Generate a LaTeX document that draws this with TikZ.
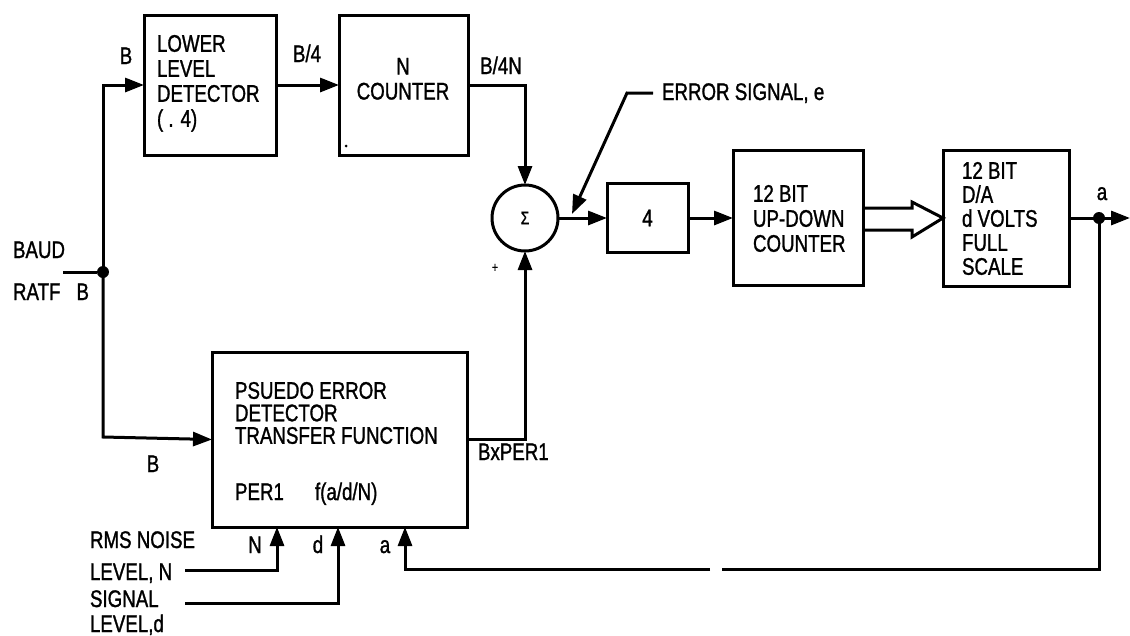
\documentclass[tikz,border=0pt]{standalone}
\usepackage{fontspec}
\setmainfont[FakeStretch=0.78,FakeBold=1.2]{Liberation Sans}
\usetikzlibrary{arrows.meta,calc}
\begin{document}
\begin{tikzpicture}[x=1pt,y=-1pt,
  every node/.style={inner sep=0pt, outer sep=0pt, font=\fontsize{24}{25}\selectfont},
  box/.style={draw, line width=3pt, rectangle},
  wire/.style={line width=3pt},
  arr/.style={line width=3pt, -{Triangle[length=19pt,width=14pt]}},
  lbl/.style={anchor=base},
  lblw/.style={anchor=base west},
  txt/.style={anchor=north west, align=left},
  dotn/.style={circle, fill, minimum size=12pt}
]
\useasboundingbox (0,0) rectangle (1130,635);

% boxes
\node[box, minimum width=132pt, minimum height=140pt] (lld) at (210,85) {};
\node[box, minimum width=129pt, minimum height=140pt] (nc) at (403.5,85) {};
\node[box, minimum width=255pt, minimum height=175pt] (pe) at (339.5,439.5) {};
\node[draw, circle, line width=3pt, minimum size=66pt] (sum) at (525,218) {\fontsize{18}{18}\selectfont Σ};
\node[box, minimum width=81pt, minimum height=69pt] (b4) at (647.5,218) {4};
\node[box, minimum width=130pt, minimum height=135pt] (udc) at (798,218) {};
\node[box, minimum width=126pt, minimum height=136pt] (da) at (1006,218) {};

% box texts
\node[txt] (lldt) at (157,35) {LOWER\\LEVEL\\DETECTOR\\( . 4)};
\node[anchor=north, align=center] (nct) at (403,58) {N\\COUNTER};
\fill (346,146) circle (1.5pt);
\node[txt] (udct) at (753,185) {12 BIT\\UP-DOWN\\COUNTER};
\node[txt, font=\fontsize{24}{24}\selectfont] (dat) at (962,162) {12 BIT\\D/A\\d VOLTS\\FULL\\SCALE};
\node[txt, font=\fontsize{24}{22.5}\selectfont] (pet) at (235,382) {PSUEDO ERROR\\DETECTOR\\TRANSFER FUNCTION};
\node[lblw] (per) at (235,500) {PER1};
\node[lblw] (fad) at (315,500) {f(a/d/N)};

% labels
\node[lblw] (baud) at (13,258) {BAUD};
\node[lblw] (ratf) at (13,300) {RATF\hspace{16pt}B};
\node[lbl] (bt) at (126,64) {B};
\node[lbl] (b4l) at (307,62) {B/4};
\node[lbl] (b4nl) at (501,74) {B/4N};
\node[lbl] (plus) at (495,272) {\fontsize{14}{14}\selectfont +};
\node[lblw] (err) at (662,100) {ERROR SIGNAL, e};
\node[lbl] (al) at (1102,200) {a};
\node[lbl] (bl) at (153,472) {B};
\node[lblw] (bx) at (478,460) {BxPER1};
\node[lblw] (rms) at (90,548) {RMS NOISE};
\node[lblw] (lvn) at (90,580) {LEVEL, N};
\node[lblw] (sig) at (90,607) {SIGNAL};
\node[lblw] (lvd) at (90,632) {LEVEL,d};
\node[lbl] (nl) at (255,553) {N};
\node[lbl] (dl) at (318,553) {d};
\node[lbl] (pal) at (385,553) {a};

% coordinates
\coordinate (in) at (63,272);
\node[dotn] (j) at (103,272) {};
\coordinate (topc) at (103,85);
\coordinate (botc) at (103,437);
\node[dotn] (o) at (1099,218) {};
\coordinate (out) at (1130,218);
\coordinate (g1) at (722,569);
\coordinate (g2) at (710,569);
\coordinate (nIn) at (185,570);
\coordinate (dIn) at (185,603);
\coordinate (nP) at ($(pe.south west)+(65,0)$);
\coordinate (dP) at ($(pe.south west)+(126,0)$);
\coordinate (aP) at ($(pe.south west)+(193,0)$);
\coordinate (bend) at (627,93);
\coordinate (tip) at (572,214);

% connectors
\draw[wire] (in) -- (j);
\draw[arr] (j.center) -- (topc) -- (lld.west);
\draw[arr] (j.center) -- (botc) -- (pe.west);
\draw[arr] (lld.east) -- (nc.west);
\draw[arr] (nc.east) -| (sum.north);
\draw[arr] (pe.east) -| (sum.south);
\draw[arr] (sum.east) -- (b4.west);
\draw[arr] (b4.east) -- (udc.west);
\draw[arr] ([xshift=-9pt]err.west) -- (bend) -- (tip);
\draw[arr] (da.east) -- (out);
\draw[wire] (o.center) |- (g1);
\draw[arr] (g2) -| (aP);
\draw[arr] (nIn) -| (nP);
\draw[arr] (dIn) -| (dP);

% hollow bus arrow
\draw[wire, line join=miter]
  ($(udc.east)+(0,-10)$) -- ($(udc.east)+(49,-10)$) -- ($(udc.east)+(49,-16)$)
  -- (da.west)
  -- ($(udc.east)+(49,19)$) -- ($(udc.east)+(49,12)$) -- ($(udc.east)+(0,12)$);
\end{tikzpicture}
\end{document}
